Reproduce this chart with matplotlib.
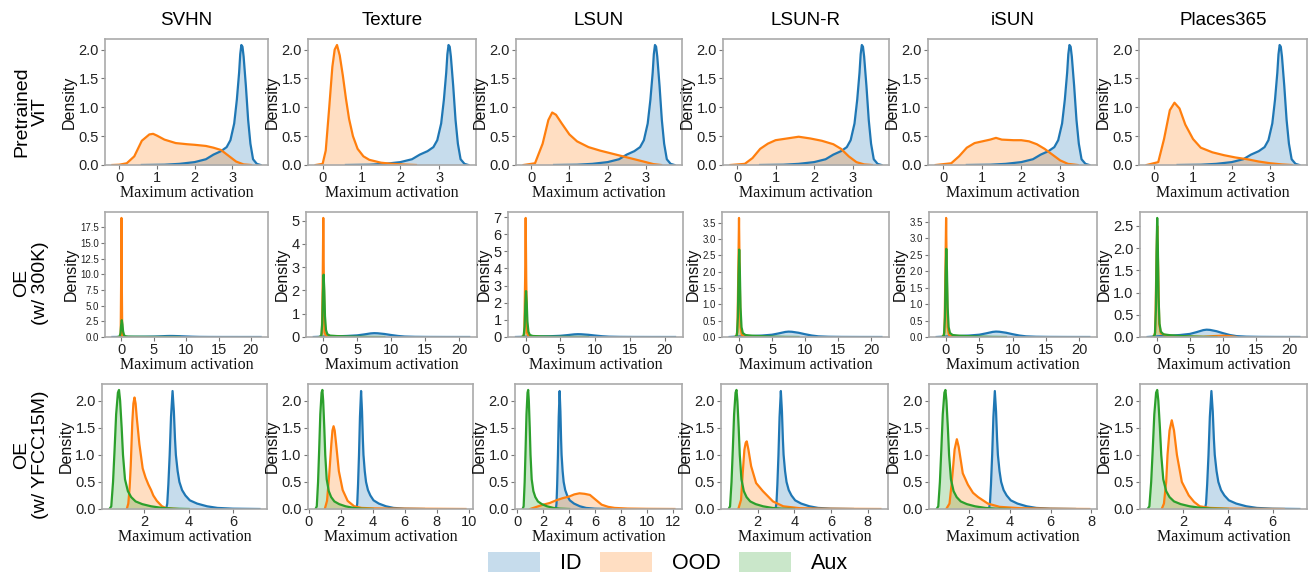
import matplotlib
matplotlib.use("Agg")
import matplotlib.pyplot as plt
from matplotlib.patches import Patch
from matplotlib.ticker import MultipleLocator

plt.rcParams['font.family'] = ['Liberation Sans', 'DejaVu Sans']

datasets = ["SVHN", "Texture", "LSUN", "LSUN-R", "iSUN", "Places365"]
row_names = ["Pretrained\nViT", "OE\n(w/ 300K)", "OE\n(w/ YFCC15M)"]
legend_names = ["ID", "OOD", "Aux"]

# ---- row 1: pretrained ViT (density curves) ----
vit_id_x = [0.6, 1.2, 1.6, 2.0, 2.3, 2.5, 2.7, 2.85, 2.95, 3.05, 3.12, 3.18, 3.21,
            3.24, 3.27, 3.3, 3.36, 3.42, 3.48, 3.55, 3.65, 3.75]
vit_id_y = [0.0, 0.005, 0.02, 0.05, 0.1, 0.18, 0.24, 0.31, 0.43, 0.72, 1.13, 1.6, 1.92,
            2.08, 2.05, 1.88, 1.37, 0.78, 0.37, 0.1, 0.02, 0.0]
vit_ood = {
    "SVHN": ([-0.18, 0.0, 0.2, 0.4, 0.6, 0.8, 0.9, 1.0, 1.2, 1.5, 1.8, 2.0, 2.3, 2.5, 2.7, 2.9, 3.1, 3.3, 3.5],
             [0, 0.005, 0.03, 0.15, 0.42, 0.53, 0.54, 0.51, 0.44, 0.38, 0.36, 0.35, 0.33, 0.3, 0.26, 0.16, 0.06, 0.01, 0]),
    "Texture": ([-0.18, 0.0, 0.08, 0.17, 0.25, 0.31, 0.37, 0.44, 0.52, 0.6, 0.68, 0.78, 0.9, 1.05, 1.2, 1.5, 1.8, 2.1, 2.4],
                [0, 0.02, 0.25, 1.0, 1.7, 2.0, 2.08, 1.9, 1.55, 1.15, 0.8, 0.5, 0.28, 0.15, 0.09, 0.04, 0.02, 0.008, 0]),
    "LSUN": ([-0.2, 0.1, 0.3, 0.45, 0.55, 0.65, 0.8, 1.0, 1.2, 1.5, 1.8, 2.1, 2.4, 2.7, 3.0, 3.2, 3.4],
             [0, 0.03, 0.37, 0.78, 0.91, 0.87, 0.72, 0.53, 0.41, 0.31, 0.25, 0.2, 0.15, 0.1, 0.05, 0.015, 0]),
    "LSUN-R": ([-0.17, 0.2, 0.4, 0.6, 0.8, 1.0, 1.3, 1.6, 1.9, 2.2, 2.5, 2.7, 2.9, 3.1, 3.3, 3.5],
               [0, 0.02, 0.12, 0.28, 0.37, 0.43, 0.46, 0.49, 0.46, 0.42, 0.36, 0.28, 0.15, 0.05, 0.01, 0]),
    "iSUN": ([-0.2, 0.2, 0.4, 0.6, 0.8, 1.0, 1.2, 1.35, 1.5, 1.8, 2.0, 2.2, 2.4, 2.6, 2.8, 3.0, 3.2, 3.45],
             [0, 0.03, 0.15, 0.3, 0.38, 0.41, 0.44, 0.47, 0.44, 0.43, 0.43, 0.41, 0.36, 0.28, 0.18, 0.08, 0.02, 0]),
    "Places365": ([-0.2, 0.1, 0.25, 0.4, 0.52, 0.65, 0.8, 1.0, 1.2, 1.5, 1.8, 2.1, 2.4, 2.7, 3.0, 3.3, 3.55],
                  [0, 0.05, 0.45, 0.95, 1.08, 0.98, 0.7, 0.45, 0.3, 0.22, 0.17, 0.13, 0.1, 0.06, 0.03, 0.01, 0]),
}

# ---- row 2: OE with 300K random images ----
oe300k_id_x = [-1.4, -0.5, 0.5, 2.0, 3.5, 5.0, 6.0, 7.0, 7.5, 8.0, 9.0, 10.0, 11.0, 12.0, 13.5, 15.5, 18.0, 21.5]
oe300k_id_y = [0, 0.01, 0.02, 0.03, 0.045, 0.07, 0.11, 0.155, 0.165, 0.16, 0.13, 0.085, 0.045, 0.02, 0.008, 0.003, 0.001, 0]
oe300k_aux_x = [-0.6, -0.3, -0.15, -0.05, 0.05, 0.15, 0.25, 0.4, 0.6, 1.0, 2.0, 3.0, 4.0, 5.5, 7.0, 9.0]
oe300k_aux_y = [0, 0.05, 0.6, 1.9, 2.68, 2.0, 0.9, 0.3, 0.12, 0.06, 0.04, 0.03, 0.02, 0.01, 0.003, 0]
oe300k_ood = {
    "SVHN": ([-0.3, -0.12, -0.05, 0.0, 0.05, 0.12, 0.3, 0.8],
             [0, 0.4, 9.0, 19.0, 9.0, 0.4, 0.02, 0]),
    "Texture": ([-0.4, -0.2, -0.08, 0.0, 0.08, 0.2, 0.4, 1.0, 2.0],
                [0, 0.15, 2.5, 5.12, 2.5, 0.2, 0.05, 0.01, 0]),
    "LSUN": ([-0.4, -0.2, -0.08, 0.0, 0.08, 0.2, 0.4, 1.0, 2.0],
             [0, 0.2, 3.4, 6.95, 3.4, 0.25, 0.05, 0.01, 0]),
    "LSUN-R": ([-0.45, -0.22, -0.1, 0.02, 0.12, 0.25, 0.45, 1.0, 2.0],
               [0, 0.15, 1.8, 3.65, 1.9, 0.3, 0.06, 0.015, 0]),
    "iSUN": ([-0.45, -0.22, -0.1, 0.02, 0.12, 0.25, 0.45, 1.0, 2.0],
             [0, 0.15, 1.8, 3.62, 1.9, 0.3, 0.06, 0.015, 0]),
    "Places365": ([-0.5, -0.25, -0.1, 0.05, 0.2, 0.35, 0.6, 1.5, 4.0, 7.0, 8.5, 10.0, 11.0, 12.0],
                  [0, 0.1, 1.4, 2.5, 1.5, 0.3, 0.08, 0.03, 0.01, 0.005, 0.02, 0.03, 0.02, 0]),
}

# ---- row 3: OE with YFCC15M ----
yfcc_id_x = [2.98, 3.03, 3.08, 3.14, 3.2, 3.27, 3.33, 3.38, 3.42, 3.5, 3.58, 3.7, 3.85, 4.05,
             4.38, 4.83, 5.3, 6.0, 7.2]
yfcc_id_y = [0, 0.1, 0.45, 1.0, 1.7, 2.18, 1.8, 1.3, 1.0, 0.7, 0.5, 0.35, 0.25, 0.16,
             0.1, 0.05, 0.02, 0.006, 0]
yfcc_aux_x = [0.42, 0.5, 0.58, 0.65, 0.72, 0.8, 0.85, 0.9, 0.97, 1.03, 1.12, 1.25, 1.4, 1.6,
              1.9, 2.3, 2.8, 3.3, 4.0]
yfcc_aux_y = [0, 0.05, 0.5, 1.1, 1.75, 2.15, 2.2, 2.0, 1.5, 1.0, 0.55, 0.33, 0.22, 0.14,
              0.09, 0.05, 0.02, 0.006, 0]
yfcc_ood = {
    "SVHN": ([1.2, 1.27, 1.33, 1.38, 1.45, 1.5, 1.55, 1.6, 1.65, 1.77, 1.92, 2.05, 2.18, 2.3, 2.4, 2.56, 2.79, 3.0, 3.5],
             [0, 0.1, 0.4, 0.8, 1.6, 1.95, 2.06, 1.95, 1.7, 1.2, 0.75, 0.58, 0.45, 0.35, 0.25, 0.15, 0.05, 0.015, 0]),
    "Texture": ([1.0, 1.14, 1.27, 1.41, 1.48, 1.55, 1.62, 1.71, 1.88, 2.12, 2.43, 2.84, 3.3, 4.0, 5.0, 7.0, 9.8],
                [0, 0.15, 0.6, 1.2, 1.45, 1.53, 1.45, 1.2, 0.7, 0.35, 0.15, 0.05, 0.02, 0.012, 0.008, 0.005, 0]),
    "LSUN": ([1.0, 1.5, 2.0, 2.5, 3.0, 3.5, 4.0, 4.4, 4.8, 5.2, 5.6, 6.0, 6.5, 7.0, 7.5, 8.5, 10.0, 12.1],
             [0, 0.04, 0.08, 0.11, 0.16, 0.2, 0.23, 0.27, 0.29, 0.28, 0.26, 0.18, 0.08, 0.04, 0.02, 0.008, 0.003, 0]),
    "LSUN-R": ([0.95, 1.1, 1.19, 1.28, 1.35, 1.41, 1.5, 1.65, 1.92, 2.29, 2.84, 3.4, 4.3, 5.5, 7.0, 8.7],
               [0, 0.17, 0.66, 1.09, 1.22, 1.25, 1.1, 0.79, 0.48, 0.33, 0.14, 0.05, 0.015, 0.006, 0.003, 0]),
    "iSUN": ([0.89, 1.05, 1.15, 1.21, 1.3, 1.41, 1.5, 1.7, 1.95, 2.2, 2.45, 2.93, 3.5, 4.5, 6.0, 7.9],
             [0, 0.1, 0.45, 0.7, 1.1, 1.29, 1.15, 0.66, 0.45, 0.3, 0.22, 0.1, 0.04, 0.015, 0.005, 0]),
    "Places365": ([1.05, 1.15, 1.25, 1.31, 1.4, 1.5, 1.6, 1.73, 1.95, 2.26, 2.5, 2.75, 3.2, 4.0, 5.0, 6.5],
                  [0, 0.1, 0.5, 1.0, 1.45, 1.64, 1.45, 1.0, 0.5, 0.25, 0.13, 0.05, 0.02, 0.008, 0.004, 0]),
}

colors = ['#1f77b4', '#ff7f0e', '#2ca02c']

# panel boxes in pixels (left, right) per row and (top, bottom) per row
lefts = [[105, 308, 516, 723, 928, 1139],
         [105, 306, 508, 722, 929, 1140],
         [102, 308, 515, 721, 929, 1140]]
rights = [[268, 476, 682, 889, 1097, 1307],
          [268, 477, 683, 889, 1097, 1307],
          [267, 473, 682, 888, 1097, 1307]]
tops = [39, 212, 384]
bottoms = [165, 337, 509]
label_y = [112, 283, 455]
small_ytick = {(1, 0), (1, 3), (1, 4)}
# tick spacing
x_steps = [1, 5, 2]
y_steps = [[0.5] * 6, [2.5, 1, 1, 0.5, 0.5, 0.5], [0.5] * 6]

W, H = 1312, 576
fig = plt.figure(figsize=(W / 100, H / 100), dpi=100)


def draw_kde(ax, x, y, color):
    ax.fill_between(x, y, color=color, alpha=0.25, linewidth=0)
    ax.plot(x, y, color=color, linewidth=1.6)


for r in range(3):
    for c, name in enumerate(datasets):
        l, rr = lefts[r][c], rights[r][c]
        ax = fig.add_axes([l / W, 1 - bottoms[r] / H, (rr - l) / W, (bottoms[r] - tops[r]) / H])
        if r == 0:
            curves = [(vit_id_x, vit_id_y, colors[0]),
                      (vit_ood[name][0], vit_ood[name][1], colors[1])]
        elif r == 1:
            curves = [(oe300k_id_x, oe300k_id_y, colors[0]),
                      (oe300k_ood[name][0], oe300k_ood[name][1], colors[1]),
                      (oe300k_aux_x, oe300k_aux_y, colors[2])]
        else:
            curves = [(yfcc_id_x, yfcc_id_y, colors[0]),
                      (yfcc_ood[name][0], yfcc_ood[name][1], colors[1]),
                      (yfcc_aux_x, yfcc_aux_y, colors[2])]
        for x, y, col in curves:
            draw_kde(ax, x, y, col)

        xmin = min(min(cx) for cx, _, _ in curves)
        xmax = max(max(cx) for cx, _, _ in curves)
        ymax = max(max(cy) for _, cy, _ in curves)
        pad = 0.05 * (xmax - xmin)
        ax.set_xlim(xmin - pad, xmax + pad)
        ax.set_ylim(0, ymax * 1.05)
        ax.xaxis.set_major_locator(MultipleLocator(x_steps[r]))
        ax.yaxis.set_major_locator(MultipleLocator(y_steps[r][c]))

        for s in ax.spines.values():
            s.set_color('#aaaaaa')
            s.set_linewidth(1.2)
        ax.tick_params(length=3, width=0.8, color='#777777', pad=1.5,
                       labelsize=10.5, labelcolor='#222222')
        if (r, c) in small_ytick:
            ax.tick_params(axis='y', labelsize=7)
        ax.set_ylabel('Density', fontsize=11.5, labelpad=1, color='#111111')
        ax.set_xlabel('Maximum activation', fontsize=11.5, labelpad=0,
                      family=['Liberation Serif', 'DejaVu Serif'], color='#111111')
        if r == 0:
            ax.set_title(name, fontsize=13.5, pad=10)

    fig.text(31 / W, 1 - label_y[r] / H, row_names[r], rotation=90, fontsize=14,
             ha='center', va='center', multialignment='center', linespacing=1.15)

handles = [Patch(facecolor=col, alpha=0.25, edgecolor='none') for col in colors]
fig.legend(handles, legend_names, loc='center', bbox_to_anchor=(0.509, 1 - 563 / H),
           ncol=3, frameon=False, fontsize=15.5, handlelength=2.45, handleheight=1.1,
           handletextpad=0.9, columnspacing=0.85, borderpad=0)

fig.savefig('out.png', dpi=100)
